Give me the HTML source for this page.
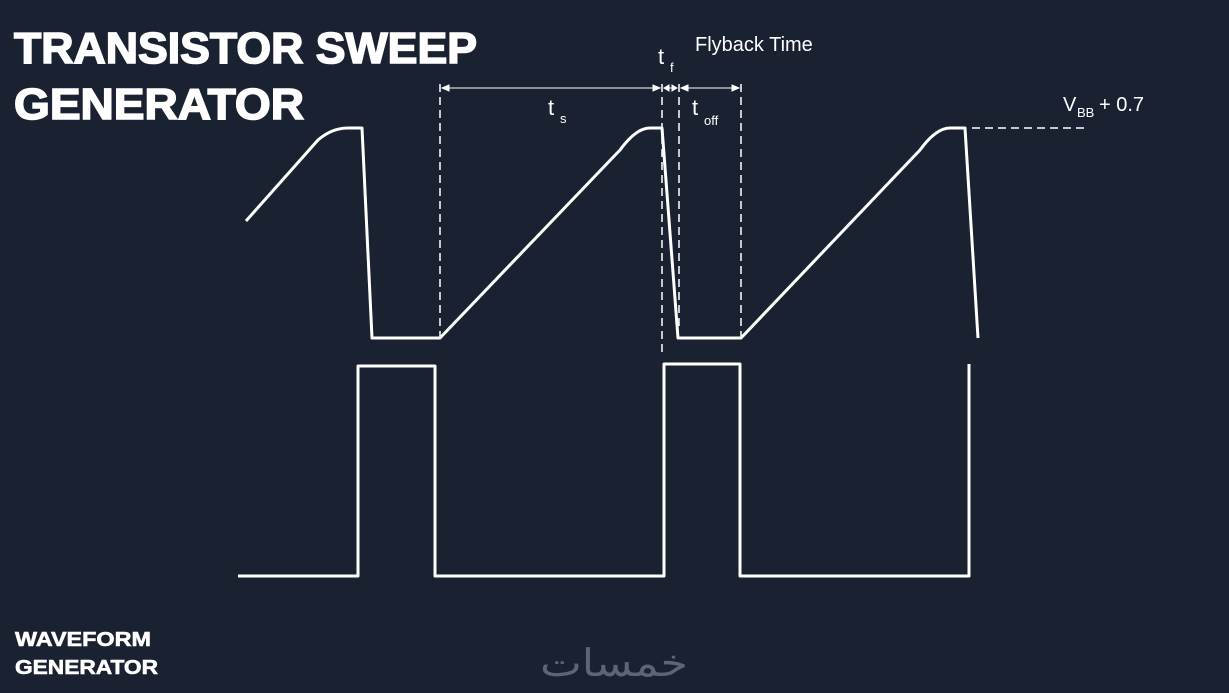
<!DOCTYPE html>
<html><head><meta charset="utf-8"><style>
html,body{margin:0;padding:0;background:#1a2131;}
svg{display:block}
text{font-family:"Liberation Sans",sans-serif;fill:#fff}
</style></head><body>
<svg width="1229" height="693" viewBox="0 0 1229 693">
<rect width="1229" height="693" fill="#1a2131"/>
<g stroke="#fff" stroke-width="1.6">
<text x="14" y="63" font-size="44" font-weight="bold" textLength="463" lengthAdjust="spacingAndGlyphs">TRANSISTOR SWEEP</text>
<text x="14" y="119" font-size="44" font-weight="bold" textLength="290" lengthAdjust="spacingAndGlyphs">GENERATOR</text>
</g>
<g stroke="#fff" stroke-width="0.6">
<text x="15" y="646" font-size="20" font-weight="bold" textLength="136" lengthAdjust="spacingAndGlyphs">WAVEFORM</text>
<text x="15" y="674" font-size="20" font-weight="bold" textLength="143" lengthAdjust="spacingAndGlyphs">GENERATOR</text>
</g>
<text x="540" y="676" font-size="38" style="fill:#5d6575" font-family="'Noto Sans CJK SC',sans-serif" textLength="148" lengthAdjust="spacingAndGlyphs">خمسات</text>

<g fill="none" stroke="#fff" stroke-width="3" stroke-linejoin="round">
<path d="M246 221 L318 140 Q332 128 348 128 L362 128 L372 338 L440 338 L620 150 Q636 128 650 128 L662 128 L678 338 L741 338 L920 150 Q936 128 950 128 L965 128 L978 338"/>
<path d="M238 576 L358 576 L358 366 L435 366 L435 576 L664 576 L664 364 L740 364 L740 576 L969 576 L969 364"/>
</g>
<g stroke="#fff" stroke-width="1.5" stroke-dasharray="8 5" fill="none">
<line x1="440" y1="84" x2="440" y2="338"/>
<line x1="662" y1="84" x2="662" y2="356"/>
<line x1="679" y1="84" x2="679" y2="330"/>
<line x1="741" y1="84" x2="741" y2="338"/>
<line x1="972" y1="128" x2="1085" y2="128"/>
</g>
<g stroke="#fff" stroke-width="1" fill="#fff">
<line x1="442" y1="88" x2="660" y2="88"/>
<line x1="664" y1="88" x2="677" y2="88"/>
<line x1="681" y1="88" x2="739" y2="88"/>
<path d="M442 88 l7 -3 v6z M660 88 l-7 -3 v6z M664 88 l5 -3 v6z M677 88 l-5 -3 v6z M681 88 l7 -3 v6z M739 88 l-7 -3 v6z"/>
</g>
<text x="548" y="115" font-size="22">t</text><text x="560" y="123" font-size="13">s</text>
<text x="658" y="64" font-size="22">t</text><text x="670" y="72" font-size="13">f</text>
<text x="692" y="115" font-size="22">t</text><text x="704" y="125" font-size="13">off</text>
<text x="695" y="51" font-size="20">Flyback Time</text>
<text x="1063" y="111" font-size="20">V</text><text x="1077" y="117" font-size="13">BB</text><text x="1099" y="111" font-size="20">+ 0.7</text>
</svg>
</body></html>
